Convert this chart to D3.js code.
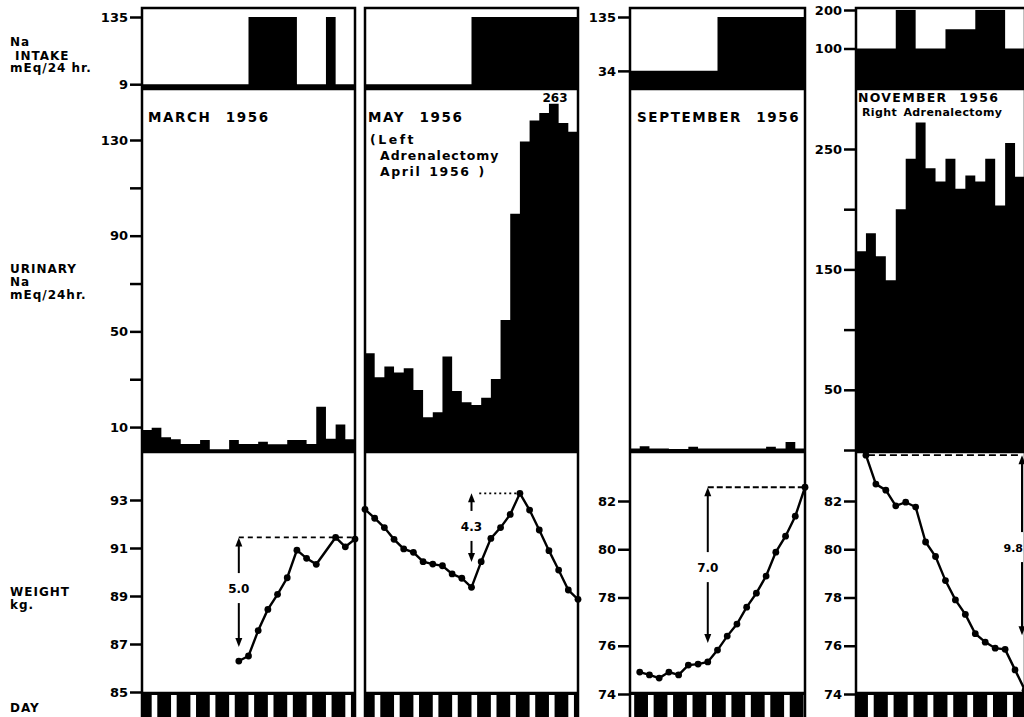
<!DOCTYPE html>
<html>
<head>
<meta charset="utf-8">
<script src="https://cdn.jsdelivr.net/npm/d3@7"></script>
<style>
  body { margin: 0; background: #fff; }
  svg { display: block; font-family: "DejaVu Sans", sans-serif; font-weight: bold; }
</style>
</head>
<body>
<svg id="chart" width="1024" height="717"></svg>
<script>
// ---- values (one entry per day) ----
const marchIntake = [9,9,9,9,9,9,9,9,9,9,9,135,135,135,135,135,9,9,9,135,9,9];
const marchUrine = [8.75,9.7,5.7,4.9,2.9,2.9,4.6,0.7,0.7,4.6,2.9,2.9,3.9,2.8,2.8,4.6,4.6,2.9,18.5,5.1,11.1,4.9];
const marchWeightDay = [10,11,12,13,14,15,16,17,18,20,21,22];
const marchWeight = [86.29,86.5,87.56,88.44,89.07,89.76,90.91,90.57,90.32,91.44,91.05,91.37];

const mayIntake = [9,9,9,9,9,9,9,9,9,9,9,135,135,135,135,135,135,135,135,135,135,135];
const mayUrine = [40.9,30.8,35.3,32.8,34.6,25.5,14.1,16.2,39.5,25.1,20.4,19.2,22.3,30.1,54.8,99.2,129.4,138.1,141.3,145.2,137.1,133.4];
const mayWeightDay = [0,1,2,3,4,5,6,7,8,9,10,11,12,13,14,15,16,17,18,19,20,21,22];
const mayWeight = [92.61,92.24,91.85,91.36,90.96,90.82,90.43,90.33,90.26,89.92,89.74,89.36,90.43,91.4,91.85,92.4,93.28,92.58,91.75,90.89,90.08,89.25,88.86];

const septIntake = [34,34,34,34,34,34,34,34,34,135,135,135,135,135,135,135,135,135];
const septUrine = [1,2,1,1,0.8,0.8,1.8,1,1,1,1,1,1,1,1.8,1,3.8,1];
const septWeightDay = [1,2,3,4,5,6,7,8,9,10,11,12,13,14,15,16,17,18];
const septWeight = [74.91,74.79,74.66,74.91,74.79,75.2,75.24,75.33,75.82,76.4,76.9,77.6,78.18,78.89,79.88,80.54,81.37,82.57];

const novIntake = [100,100,100,100,200,200,100,100,100,150,150,150,200,200,200,100,100];
const novUrine = [165,180,161,141,200,242,272,234,223,242,217,228,223,242,203,255,227];
const novWeightDay = [1,2,3,4,5,6,7,8,9,10,11,12,13,14,15,16,17];
const novWeight = [83.9,82.7,82.45,81.8,81.95,81.75,80.3,79.7,78.7,77.9,77.3,76.5,76.15,75.9,75.85,75.0,74.15];

// ---- tick values ----
const intakeTicksMarch = [9,135];
const intakeTicksSept = [34,135];
const intakeTicksNov = [100,200];
const urineTicks = [10,30,50,70,90,110,130];
const urineLabels = [10,50,90,130];
const urineTicksNov = [0,50,100,150,200,250];
const urineLabelsNov = [50,150,250];
const weightTicksMarch = [85,87,89,91,93];
const weightTicksLate = [74,76,78,80,82];

// weight change arrows: day, arrow top/bottom (kg), label position (kg)
const gains = [
  {panel: 0, day: 10, top: 91.44, bottom: 86.88, at: 89.33, label: "5.0", from: 10, to: 22, dash: "5,4"},
  {panel: 1, day: 11, top: 93.28, bottom: 90.42, at: 91.92, label: "4.3", from: 11.8, to: 16, dash: "2,3"},
  {panel: 2, day: 8, top: 82.57, bottom: 76.11, at: 79.26, label: "7.0", from: 8, to: 18, dash: "6,3"},
  {panel: 3, day: 16.7, top: 83.9, bottom: 76.44, at: 80.09, label: "9.8", from: 1.2, to: 16.4, dash: "7,4"}
];

// ---- layout ----
var TOP = 8, MID1 = 89, MID2 = 452, MID3 = 693, BOT = 740;

var intakeStd = d3.scaleLinear().domain([0,135]).range([89,17]);
var intakeNov = d3.scaleLinear().domain([0,200]).range([87,10]);
var urineStd = d3.scaleLinear().domain([0,130]).range([451,140]);
var urineNov = d3.scaleLinear().domain([0,250]).range([450,149]);
var weightMarch = d3.scaleLinear().domain([85,93]).range([692,500]);
var weightLate = d3.scaleLinear().domain([74,82]).range([694,501]);

var panels = [
  {x0: 142, x1: 355, days: 22, intake: marchIntake, urine: marchUrine, wDay: marchWeightDay, w: marchWeight,
   yI: intakeStd, yU: urineStd, yW: weightMarch, stripe: 1.0,
   iTicks: intakeTicksMarch, uTicks: urineTicks, uLabels: urineLabels, wTicks: weightTicksMarch},
  {x0: 365, x1: 578, days: 22, intake: mayIntake, urine: mayUrine, wDay: mayWeightDay, w: mayWeight,
   yI: intakeStd, yU: urineStd, yW: weightMarch, stripe: 1.0},
  {x0: 630, x1: 805, days: 18, intake: septIntake, urine: septUrine, wDay: septWeightDay, w: septWeight,
   yI: intakeStd, yU: urineStd, yW: weightLate, stripe: 1.85,
   iTicks: intakeTicksSept, wTicks: weightTicksLate},
  {x0: 856, x1: 1025, days: 17, intake: novIntake, urine: novUrine, wDay: novWeightDay, w: novWeight,
   yI: intakeNov, yU: urineNov, yW: weightLate, stripe: 1.2,
   iTicks: intakeTicksNov, uTicks: urineTicksNov, uLabels: urineLabelsNov, wTicks: weightTicksLate}
];

var svg = d3.select("#chart");

function styleAxis(g) {
  g.select(".domain").remove();
  g.selectAll(".tick line").attr("stroke", "#000").attr("stroke-width", 2.5);
  g.selectAll(".tick text")
    .attr("fill", "#000")
    .style("font-size", "13px")
    .style("font-weight", "bold")
    .style("font-family", "'DejaVu Sans', sans-serif");
}

function addAxis(p, scale, ticks, labels) {
  svg.append("g")
    .attr("transform", `translate(${p.x0 - 1},0)`)
    .call(d3.axisLeft(scale).tickValues(ticks).tickSize(11).tickPadding(2)
      .tickFormat(d => (!labels || labels.includes(d)) ? d : ""))
    .call(styleAxis);
}

// daily values drawn as one stepped block, so neighbouring days do not show seams
function stepArea(g, x, values, y, base) {
  var pts = values.map((v, i) => [i, v]);
  pts.push([values.length, values[values.length - 1]]);
  g.append("path")
    .datum(pts)
    .attr("fill", "#000")
    .attr("d", d3.area().curve(d3.curveStepAfter)
      .x(d => x(d[0])).y0(base).y1(d => y(d[1])));
}

panels.forEach(function(p) {
  var x = d3.scaleLinear().domain([0, p.days]).range([p.x0, p.x1]);
  p.x = x;
  var g = svg.append("g");

  stepArea(g, x, p.intake, p.yI, MID1);
  stepArea(g, x, p.urine, p.yU, MID2);

  // day strip
  g.append("rect")
    .attr("x", p.x0).attr("y", MID3)
    .attr("width", p.x1 - p.x0).attr("height", BOT - MID3)
    .attr("fill", "#000");
  var gaps = [];
  for (var s = p.stripe - 2; s < p.days; s += 2) {
    var a = Math.max(0, s), b = Math.min(p.days, s + 0.58);
    if (b > a) gaps.push([a, b]);
  }
  g.selectAll(".gap")
    .data(gaps)
    .join("rect")
      .attr("x", d => x(d[0]))
      .attr("width", d => x(d[1]) - x(d[0]))
      .attr("y", MID3 + 2).attr("height", BOT - MID3)
      .attr("fill", "#fff");

  // frame
  g.append("rect")
    .attr("x", p.x0).attr("y", TOP)
    .attr("width", p.x1 - p.x0).attr("height", BOT - TOP)
    .attr("fill", "none").attr("stroke", "#000").attr("stroke-width", 2.5);
  [MID1, MID2, MID3].forEach(function(yy) {
    g.append("line")
      .attr("x1", p.x0).attr("x2", p.x1).attr("y1", yy).attr("y2", yy)
      .attr("stroke", "#000").attr("stroke-width", 2.5);
  });

  // weight line and points
  var pts = p.wDay.map((d, i) => [d, p.w[i]]);
  g.append("path")
    .datum(pts)
    .attr("fill", "none").attr("stroke", "#000").attr("stroke-width", 2.4)
    .attr("d", d3.line().x(d => x(d[0])).y(d => p.yW(d[1])));
  g.selectAll(".pt")
    .data(pts)
    .join("circle")
      .attr("cx", d => x(d[0]))
      .attr("cy", d => p.yW(d[1]))
      .attr("r", 3.4)
      .attr("fill", "#000");

  // axes
  if (p.iTicks) addAxis(p, p.yI, p.iTicks);
  if (p.uTicks) addAxis(p, p.yU, p.uTicks, p.uLabels);
  if (p.wTicks) addAxis(p, p.yW, p.wTicks);
});

// weight change annotations
gains.forEach(function(a) {
  var p = panels[a.panel];
  var ax = p.x(a.day), yTop = p.yW(a.top), yBot = p.yW(a.bottom), yl = p.yW(a.at);
  var g = svg.append("g");
  g.append("line")
    .attr("x1", p.x(a.from)).attr("x2", p.x(a.to))
    .attr("y1", yTop).attr("y2", yTop)
    .attr("stroke", "#000").attr("stroke-width", 1.8)
    .attr("stroke-dasharray", a.dash);
  g.append("line")
    .attr("x1", ax).attr("x2", ax).attr("y1", yTop + 4).attr("y2", yl - 15)
    .attr("stroke", "#000").attr("stroke-width", 2);
  g.append("line")
    .attr("x1", ax).attr("x2", ax).attr("y1", yl + 15).attr("y2", yBot - 4)
    .attr("stroke", "#000").attr("stroke-width", 2);
  g.append("path")
    .attr("d", `M${ax},${yTop} L${ax - 3.5},${yTop + 9} L${ax + 3.5},${yTop + 9} Z`)
    .attr("fill", "#000");
  g.append("path")
    .attr("d", `M${ax},${yBot} L${ax - 3.5},${yBot - 9} L${ax + 3.5},${yBot - 9} Z`)
    .attr("fill", "#000");
  // the last label sits against the right edge, so keep it inside the picture
  var edge = ax + 12 > 1024;
  g.append("text")
    .attr("x", edge ? 1023 : ax).attr("y", yl + 5)
    .attr("text-anchor", edge ? "end" : "middle")
    .style("font-size", edge ? "11px" : "12px")
    .text(a.label);
});

// peak label in May
svg.append("text")
  .attr("x", 555).attr("y", 102)
  .attr("text-anchor", "middle")
  .style("font-size", "12px")
  .text("263");

// panel titles
var titles = [
  {x: 148, y: 122, size: 13.5, ls: 1.6, ws: 8, t: "MARCH 1956"},
  {x: 368, y: 122, size: 13.5, ls: 1.6, ws: 8, t: "MAY 1956"},
  {x: 370, y: 144, size: 12.5, ls: 2.5, ws: 0, t: "(Left"},
  {x: 380, y: 160, size: 12.5, ls: 1.0, ws: 0, t: "Adrenalectomy"},
  {x: 380, y: 176, size: 12.5, ls: 1.6, ws: 2, t: "April 1956 )"},
  {x: 637, y: 122, size: 13.5, ls: 1.6, ws: 8, t: "SEPTEMBER 1956"},
  {x: 858, y: 102, size: 12.5, ls: 1.3, ws: 6, t: "NOVEMBER 1956"},
  {x: 862, y: 116, size: 11, ls: 0.4, ws: 2, t: "Right Adrenalectomy"}
];
svg.selectAll(".title")
  .data(titles)
  .join("text")
    .attr("x", d => d.x).attr("y", d => d.y)
    .style("font-size", d => d.size + "px")
    .style("letter-spacing", d => d.ls + "px")
    .style("word-spacing", d => d.ws + "px")
    .text(d => d.t);

// row labels on the left
var rowLabels = [
  {x: 10, y: 46, t: "Na"},
  {x: 15, y: 60, t: "INTAKE"},
  {x: 10, y: 72, t: "mEq/24 hr."},
  {x: 10, y: 273, t: "URINARY"},
  {x: 10, y: 286, t: "Na"},
  {x: 10, y: 299, t: "mEq/24hr."},
  {x: 10, y: 596, t: "WEIGHT"},
  {x: 10, y: 609, t: "kg."},
  {x: 10, y: 712, t: "DAY"}
];
svg.selectAll(".row")
  .data(rowLabels)
  .join("text")
    .attr("x", d => d.x).attr("y", d => d.y)
    .style("font-size", "12px")
    .style("letter-spacing", "1px")
    .text(d => d.t);
</script>
</body>
</html>
